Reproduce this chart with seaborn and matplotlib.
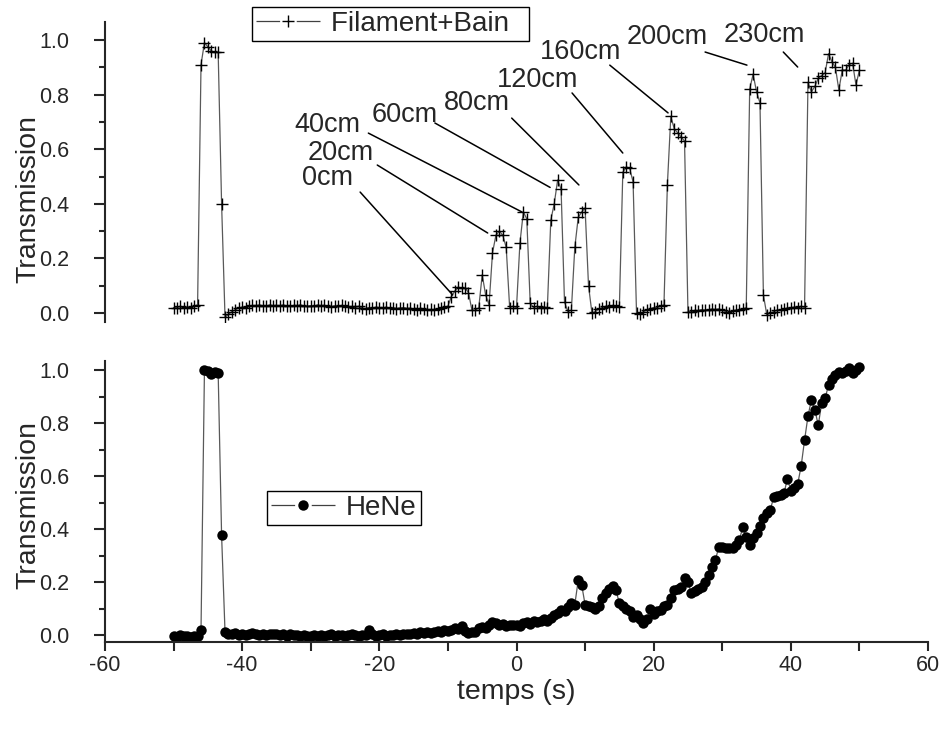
import numpy as np
import matplotlib
matplotlib.use('Agg')
import matplotlib.pyplot as plt
import seaborn as sns
from matplotlib.ticker import MultipleLocator, FormatStrFormatter

# one sample every 0.5 s, from -50 s to +50 s
t_start = -50.0
t_step = 0.5

# Filament+Bain transmission (one row = 5 s)
filament = [
    0.020, 0.020, 0.025, 0.018, 0.022, 0.020, 0.025, 0.030, 0.910, 0.990,   # -50
    0.975, 0.960, 0.955, 0.955, 0.400, -0.015, -0.005, 0.005, 0.012, 0.018,  # -45
    0.022, 0.020, 0.025, 0.028, 0.025, 0.030, 0.027, 0.025, 0.030, 0.026,   # -40
    0.028, 0.025, 0.030, 0.026, 0.024, 0.028, 0.025, 0.030, 0.026, 0.024,   # -35
    0.027, 0.025, 0.030, 0.024, 0.028, 0.025, 0.022, 0.026, 0.024, 0.028,   # -30
    0.025, 0.022, 0.024, 0.020, 0.025, 0.018, 0.015, 0.020, 0.018, 0.022,   # -25
    0.020, 0.018, 0.022, 0.017, 0.020, 0.015, 0.018, 0.020, 0.016, 0.018,   # -20
    0.015, 0.012, 0.018, 0.015, 0.010, 0.013, 0.012, 0.015, 0.018, 0.022,   # -15
    0.025, 0.060, 0.080, 0.095, 0.090, 0.092, 0.075, 0.010, 0.010, 0.020,   # -10
    0.140, 0.066, 0.030, 0.220, 0.285, 0.300, 0.285, 0.240, 0.020, 0.025,   # -5
    0.020, 0.256, 0.370, 0.345, 0.035, 0.020, 0.025, 0.020, 0.022, 0.020,   # 0
    0.340, 0.400, 0.487, 0.454, 0.040, 0.005, 0.010, 0.240, 0.350, 0.370,   # 5
    0.385, 0.100, 0.000, 0.005, 0.015, 0.020, 0.025, 0.022, 0.028, 0.025,   # 10
    0.022, 0.515, 0.535, 0.530, 0.480, 0.000, -0.005, 0.005, 0.010, 0.015,  # 15
    0.020, 0.020, 0.025, 0.030, 0.470, 0.720, 0.675, 0.660, 0.645, 0.630,   # 20
    0.005, 0.005, 0.010, 0.008, 0.012, 0.010, 0.012, 0.015, 0.012, 0.015,   # 25
    0.010, 0.005, 0.000, 0.008, 0.010, 0.012, 0.015, 0.020, 0.820, 0.875,   # 30
    0.810, 0.770, 0.066, -0.007, 0.000, 0.005, 0.010, 0.012, 0.015, 0.018,  # 35
    0.020, 0.022, 0.020, 0.025, 0.020, 0.845, 0.810, 0.830, 0.860, 0.870,   # 40
    0.880, 0.950, 0.920, 0.900, 0.817, 0.890, 0.890, 0.910, 0.915, 0.835,   # 45
    0.890,                                                                  # 50
]

# HeNe transmission (one row = 5 s)
hene = [
    -0.005, -0.008, 0.000, -0.005, -0.003, -0.008, -0.005, -0.005, 0.020, 1.000,  # -50
    0.998, 0.985, 0.993, 0.990, 0.377, 0.012, 0.005, 0.003, 0.008, 0.000,          # -45
    0.005, 0.000, 0.003, 0.008, 0.005, 0.002, 0.006, 0.000, 0.004, 0.003,          # -40
    0.005, 0.000, 0.003, -0.002, 0.004, 0.000, 0.002, -0.003, 0.000, -0.005,       # -35
    -0.003, 0.000, -0.004, 0.002, -0.002, 0.000, 0.003, -0.003, 0.000, 0.002,      # -30
    -0.002, 0.000, 0.003, 0.000, -0.004, 0.002, 0.000, 0.018, 0.003, -0.002,       # -25
    0.000, 0.003, -0.002, 0.002, 0.000, 0.004, 0.002, 0.005, 0.003, 0.006,         # -20
    0.008, 0.005, 0.010, 0.007, 0.012, 0.008, 0.010, 0.015, 0.012, 0.018,          # -15
    0.015, 0.020, 0.025, 0.022, 0.034, 0.015, 0.008, 0.010, 0.012, 0.025,          # -10
    0.030, 0.028, 0.040, 0.048, 0.045, 0.038, 0.042, 0.035, 0.040, 0.038,          # -5
    0.040, 0.036, 0.045, 0.050, 0.042, 0.055, 0.048, 0.052, 0.060, 0.055,          # 0
    0.065, 0.075, 0.085, 0.095, 0.090, 0.105, 0.120, 0.115, 0.207, 0.190,          # 5
    0.115, 0.110, 0.105, 0.100, 0.110, 0.140, 0.160, 0.175, 0.185, 0.170,          # 10
    0.120, 0.110, 0.100, 0.090, 0.068, 0.075, 0.060, 0.045, 0.060, 0.100,          # 15
    0.080, 0.090, 0.095, 0.110, 0.113, 0.140, 0.170, 0.175, 0.180, 0.215,          # 20
    0.200, 0.158, 0.165, 0.175, 0.180, 0.200, 0.225, 0.258, 0.283, 0.333,          # 25
    0.333, 0.328, 0.330, 0.328, 0.340, 0.358, 0.409, 0.370, 0.340, 0.365,          # 30
    0.385, 0.410, 0.440, 0.460, 0.472, 0.520, 0.525, 0.528, 0.535, 0.590,          # 35
    0.545, 0.555, 0.570, 0.637, 0.735, 0.826, 0.887, 0.850, 0.792, 0.875,          # 40
    0.894, 0.943, 0.965, 0.980, 0.994, 0.990, 0.995, 1.008, 0.990, 1.000,          # 45
    1.012,                                                                         # 50
]

# distance labels on the upper panel
dist_labels = ['0cm', '20cm', '40cm', '60cm', '80cm', '120cm', '160cm', '200cm', '230cm']
label_pos = [(-27.5, 0.495), (-25.7, 0.586), (-27.6, 0.689), (-16.3, 0.725), (-5.8, 0.769),
             (3.0, 0.853), (9.3, 0.956), (21.9, 1.011), (36.2, 1.018)]
line_from = [(-22.8, 0.443), (-20.3, 0.542), (-21.6, 0.659), (-11.9, 0.696), (-0.7, 0.714),
             (8.1, 0.806), (13.6, 0.908), (27.5, 0.956), (38.9, 0.956)]
line_to = [(-9.3, 0.066), (-4.2, 0.293), (0.8, 0.370), (4.9, 0.460), (9.1, 0.469),
           (15.5, 0.586), (22.1, 0.733), (33.6, 0.908), (41.0, 0.901)]

time = t_start + t_step * np.arange(len(filament))
time2 = t_start + t_step * np.arange(len(hene))

sns.set_style('ticks')
plt.rcParams['font.family'] = ['Liberation Sans', 'DejaVu Sans']
plt.rcParams['axes.unicode_minus'] = False

fig = plt.figure(figsize=(9.42, 7.31), dpi=100)
W, H = 942, 731
ax1 = fig.add_axes([105 / W, 1 - 322 / H, 823 / W, 300 / H])
ax2 = fig.add_axes([105 / W, 1 - 642 / H, 823 / W, 281 / H])

# trailing spaces give the wide right margin of the Origin legend box
sns.lineplot(x=time, y=filament, ax=ax1, color='0.35', lw=0.9, marker='+',
             markersize=9, mec='black', mew=1.0, label='Filament+Bain  ')
sns.lineplot(x=time2, y=hene, ax=ax2, color='0.35', lw=0.9, marker='o',
             markersize=7.5, mfc='black', mec='black', mew=0, label='HeNe')

for ax in (ax1, ax2):
    ax.set_xlim(-60, 60)
    ax.yaxis.set_major_locator(MultipleLocator(0.2))
    ax.yaxis.set_minor_locator(MultipleLocator(0.1))
    ax.yaxis.set_major_formatter(FormatStrFormatter('%.1f'))
    ax.spines['top'].set_visible(False)
    ax.spines['right'].set_visible(False)
    ax.spines['left'].set_linewidth(1.5)
    ax.spines['bottom'].set_linewidth(1.5)
    ax.tick_params(axis='y', which='major', length=8, width=1.5, labelsize=15.5, pad=18)
    ax.tick_params(axis='y', which='minor', length=4.5, width=1.5)
    ax.set_ylabel('Transmission', fontsize=20.5)

ax1.set_ylim(-0.033, 1.066)
ax2.set_ylim(-0.026, 1.034)

ax1.spines['bottom'].set_visible(False)
ax1.tick_params(axis='x', which='both', bottom=False, labelbottom=False)
ax1.set_xlabel('')

ax2.xaxis.set_major_locator(MultipleLocator(20))
ax2.xaxis.set_minor_locator(MultipleLocator(10))
ax2.tick_params(axis='x', which='both', length=6.5, width=1.5, labelsize=15.5, pad=3)
ax2.set_xlabel('temps (s)', fontsize=20.5)
ax2.xaxis.set_label_coords(0.5, -0.13)

ax1.yaxis.set_label_coords(-0.077, 0.41)
ax2.yaxis.set_label_coords(-0.077, 0.488)

for txt, pos, p0, p1 in zip(dist_labels, label_pos, line_from, line_to):
    ax1.text(pos[0], pos[1], txt, fontsize=19.5, ha='center', va='center', clip_on=False)
    ax1.annotate('', xy=p1, xytext=p0,
                 arrowprops=dict(arrowstyle='-', color='black', lw=1.1,
                                 shrinkA=0, shrinkB=0))

leg_kw = dict(fontsize=20, frameon=True, fancybox=False, edgecolor='black', framealpha=1,
              borderpad=0.15, handletextpad=0.4, handlelength=2.3, borderaxespad=0,
              bbox_transform=fig.transFigure, loc='upper left', numpoints=1)
leg1 = ax1.legend(bbox_to_anchor=(252 / W, 1 - 7 / H), **leg_kw)
leg2 = ax2.legend(bbox_to_anchor=(267 / W, 1 - 491 / H), **leg_kw)
for leg in (leg1, leg2):
    leg.get_frame().set_linewidth(1.0)
    # Origin-style key: short line, gap, marker, gap, short line
    for ln in leg.get_lines():
        ln.set_linestyle((0, (18.9, 13.3, 18.9, 0)))
        ln.set_color('0.25')

fig.savefig('out.png', dpi=100)
